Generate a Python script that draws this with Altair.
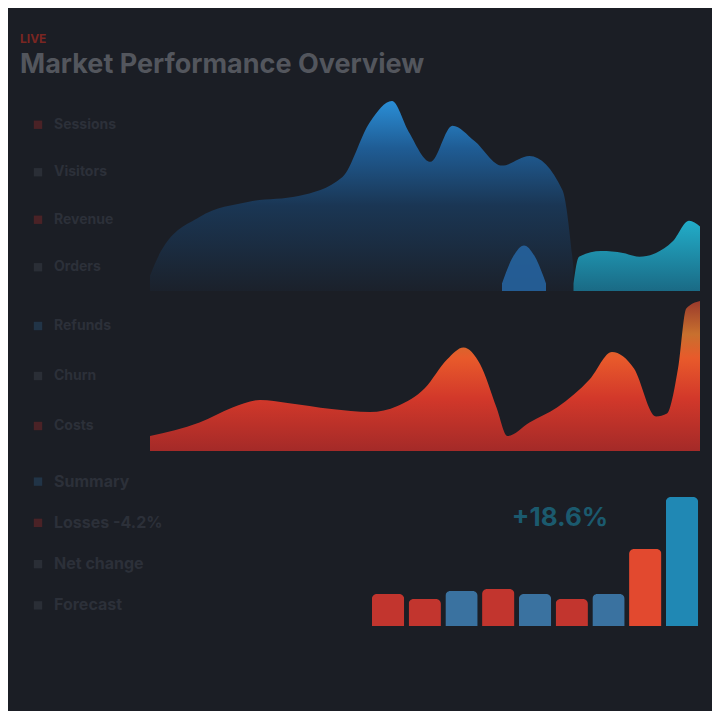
import altair as alt
import pandas as pd

BG = "#1b1e25"

# ---------------- data ----------------
kicker = "LIVE"
title_text = "Market Performance Overview"

# top panel: blue area (time index 0-100, value 0-100)
blue_t = [0, 2, 9, 18, 27, 35, 40, 44, 47, 51, 55, 59, 64, 69, 75, 77]
blue_v = [8, 21, 39, 47, 50, 60, 89, 100, 84, 68, 87, 79, 66, 71, 53, 12]

blob_t = [64, 66, 68, 70, 72]
blob_v = [4, 18, 24, 18, 4]

cyan_t = [77, 78, 82, 86, 89, 92, 95, 98, 100]
cyan_v = [4, 18, 21, 20, 18, 20, 26, 37, 34]

# middle panel: red area
red_t = [0, 9, 15, 20, 25, 33, 40, 45, 50, 54, 57, 60, 63, 65, 69, 74, 80, 84, 88, 92, 94, 96, 97.5, 100]
red_v = [10, 19, 29, 34, 32, 28, 26, 30, 42, 61, 69, 58, 29, 10, 19, 29, 48, 66, 55, 23, 25, 55, 95, 100]

# bottom panel: bars
bar_cat = ["Q1", "Q2", "Q3", "Q4", "Q5", "Q6", "Q7", "Q8", "Q9"]
bar_val = [32, 27, 35, 37, 32, 27, 32, 77, 129]
bar_grp = ["Out", "Out", "In", "Out", "In", "Out", "In", "Peak", "Total"]

badge_cat = ["Q5"]
badge_val = [108]
badge_txt = ["+18.6%"]

side1_labels = ["Sessions", "Visitors", "Revenue", "Orders"]
side1_kind = ["red", "grey", "red", "grey"]
side2_labels = ["Refunds", "Churn", "Costs"]
side2_kind = ["blue", "grey", "red"]
bottom_labels = ["Summary", "Losses  -4.2%", "Net change", "Forecast"]
bottom_kind = ["blue", "red", "grey", "grey"]

# ---------------- helpers ----------------
X = alt.X("t:Q", scale=alt.Scale(domain=[0, 100], nice=False, zero=False), axis=None)
Y = alt.Y("v:Q", scale=alt.Scale(domain=[0, 100], nice=False), axis=None)

kind_scale = alt.Scale(domain=["red", "grey", "blue"], range=["#5e2326", "#30343d", "#233d55"])


def sidebar(labels, kinds, w, h, size=14):
    df = pd.DataFrame({"label": labels, "kind": kinds})
    base = alt.Chart(df).encode(
        y=alt.Y("label:N", sort=None, axis=None, scale=alt.Scale(paddingOuter=0.4))
    )
    dots = base.mark_square(size=70).encode(
        x=alt.value(18), color=alt.Color("kind:N", scale=kind_scale, legend=None)
    )
    txt = base.mark_text(align="left", fontSize=size, font="Inter", fontWeight="bold", color="#2c3039").encode(
        x=alt.value(34), text="label:N"
    )
    return alt.layer(dots, txt).properties(width=w, height=h)


# ---------------- row 1 ----------------
blue_df = pd.DataFrame({"t": blue_t, "v": blue_v})
blob_df = pd.DataFrame({"t": blob_t, "v": blob_v})
cyan_df = pd.DataFrame({"t": cyan_t, "v": cyan_v})

blue_area = alt.Chart(blue_df).mark_area(
    interpolate="monotone",
    color=alt.Gradient(
        gradient="linear",
        stops=[
            alt.GradientStop(color="#1b212b", offset=0),
            alt.GradientStop(color="#1a3654", offset=0.45),
            alt.GradientStop(color="#1f5c94", offset=0.75),
            alt.GradientStop(color="#2a8ed6", offset=1),
        ],
        x1=1, x2=1, y1=1, y2=0,
    ),
).encode(x=X, y=Y)

blob_area = alt.Chart(blob_df).mark_area(interpolate="monotone", color="#26639f", opacity=0.9).encode(x=X, y=Y)

cyan_area = alt.Chart(cyan_df).mark_area(
    interpolate="monotone",
    color=alt.Gradient(
        gradient="linear",
        stops=[
            alt.GradientStop(color="#1a6a85", offset=0),
            alt.GradientStop(color="#22adc9", offset=1),
        ],
        x1=1, x2=1, y1=1, y2=0,
    ),
).encode(x=X, y=Y)

row1_chart = alt.layer(blue_area, blob_area, cyan_area).properties(width=550, height=190)
row1 = alt.hconcat(sidebar(side1_labels, side1_kind, 120, 190), row1_chart, spacing=10).resolve_scale(color="independent")

# ---------------- row 2 ----------------
red_df = pd.DataFrame({"t": red_t, "v": red_v})
red_area = alt.Chart(red_df).mark_area(
    interpolate="monotone",
    color=alt.Gradient(
        gradient="linear",
        stops=[
            alt.GradientStop(color="#a42a28", offset=0),
            alt.GradientStop(color="#d2382a", offset=0.35),
            alt.GradientStop(color="#e85a2b", offset=0.62),
            alt.GradientStop(color="#c8702e", offset=0.78),
            alt.GradientStop(color="#9a3a2c", offset=1),
        ],
        x1=1, x2=1, y1=1, y2=0,
    ),
).encode(x=X, y=Y)

row2_chart = red_area.properties(width=550, height=150)
row2 = alt.hconcat(sidebar(side2_labels, side2_kind, 120, 150), row2_chart, spacing=10).resolve_scale(color="independent")

# ---------------- row 3 ----------------
bar_df = pd.DataFrame({"cat": bar_cat, "val": bar_val, "grp": bar_grp})
badge_df = pd.DataFrame({"cat": badge_cat, "val": badge_val, "txt": badge_txt})

BX = alt.X("cat:N", sort=bar_cat, axis=None, scale=alt.Scale(domain=bar_cat, paddingInner=0.12, paddingOuter=0.05))
BY = alt.Y("val:Q", scale=alt.Scale(domain=[0, 165], nice=False), axis=None)

bars = alt.Chart(bar_df).mark_bar(cornerRadiusTopLeft=5, cornerRadiusTopRight=5).encode(
    x=BX,
    y=BY,
    color=alt.Color(
        "grp:N",
        scale=alt.Scale(domain=["Out", "In", "Peak", "Total"], range=["#c2352e", "#3a72a0", "#e2492f", "#2088b4"]),
        legend=None,
    ),
)
badge = alt.Chart(badge_df).mark_text(
    fontSize=26, fontWeight="bold", font="Inter", color="#1b5a6e", dx=25
).encode(x=BX, y=BY, text="txt:N")
bars_chart = alt.layer(bars, badge).properties(width=330, height=165)
row3 = alt.hconcat(sidebar(bottom_labels, bottom_kind, 340, 165, size=16), bars_chart, spacing=10).resolve_scale(color="independent")

chart = (
    alt.vconcat(row1, row2, row3, spacing=10)
    .resolve_scale(color="independent")
    .properties(
        title=alt.TitleParams(
            text=kicker,
            subtitle=title_text,
            anchor="start",
            color="#7a2622",
            fontSize=12,
            font="Inter",
            fontWeight="bold",
            subtitleColor="#53565d",
            subtitleFontSize=27,
            subtitleFont="Inter",
            subtitleFontWeight="bold",
            subtitlePadding=6,
            offset=22,
        ),
        padding={"left": 12, "top": 25, "right": 12, "bottom": 85},
        background=BG,
    )
    .configure_view(stroke=None)
    .configure_concat(spacing=10)
)

chart.save("out.html", embed_options={"renderer": "svg", "actions": False})
